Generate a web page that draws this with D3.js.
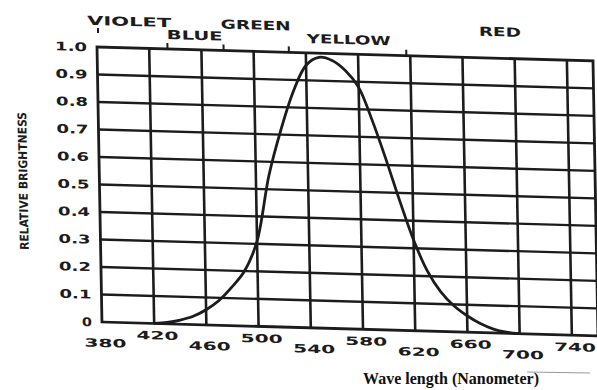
<!DOCTYPE html>
<html>
<head>
<meta charset="utf-8">
<script src="https://cdn.jsdelivr.net/npm/d3@7"></script>
<style>
  body { margin: 0; background: #fff; }
  svg { display: block; }
  .lab { font-family: "DejaVu Sans", sans-serif; font-weight: bold; fill: #1c1c1c; }
</style>
</head>
<body>
<script>
'use strict';

var width = 597, height = 390;

// luminosity curve
var wavelengths = [420, 430, 440, 450, 460, 470, 480, 490, 500, 510, 520, 530, 540, 550,
  560, 570, 580, 590, 600, 610, 620, 630, 640, 650, 660, 670, 680, 690, 700];
var brightness = [0, 0.005, 0.015, 0.03, 0.055, 0.09, 0.14, 0.2, 0.31, 0.55, 0.72, 0.86, 0.955, 0.985,
  0.975, 0.94, 0.88, 0.76, 0.62, 0.47, 0.33, 0.22, 0.145, 0.095, 0.06, 0.033, 0.014, 0.004, 0];

var xTicks = [380, 420, 460, 500, 540, 580, 620, 660, 700, 740];
var yTicks = [0, 0.1, 0.2, 0.3, 0.4, 0.5, 0.6, 0.7, 0.8, 0.9, 1.0];
var yTickLabels = ['0', '0.1', '0.2', '0.3', '0.4', '0.5', '0.6', '0.7', '0.8', '0.9', '1.0'];

// colour band names across the top
var colorNames = ['VIOLET', 'BLUE', 'GREEN', 'YELLOW', 'RED'];
var colorCenters = [405, 455, 502, 573, 689];
var bandEdges = [381, 434, 477, 527, 617];

var w = 496, h = 275;
var x = d3.scaleLinear().domain([380, 760]).range([0, w]);
var y = d3.scaleLinear().domain([0, 1]).range([h, 0]);

var svg = d3.select('body').append('svg')
  .attr('width', width)
  .attr('height', height);

// the scan is a little skewed
var g = svg.append('g')
  .attr('transform', 'matrix(1,0.028,0.018,1,97,47)');

var ink = '#1c1c1c';

// grid
g.selectAll('.hgrid')
  .data(yTicks.slice(1, -1))
  .enter().append('line')
  .attr('x1', 0).attr('x2', w)
  .attr('y1', function(d) { return y(d); })
  .attr('y2', function(d) { return y(d); })
  .attr('stroke', ink).attr('stroke-width', 2.4);

g.selectAll('.vgrid')
  .data(xTicks.slice(1))
  .enter().append('line')
  .attr('x1', function(d) { return x(d); })
  .attr('x2', function(d) { return x(d); })
  .attr('y1', 0).attr('y2', h)
  .attr('stroke', ink).attr('stroke-width', 2.6);

g.append('rect')
  .attr('x', 0).attr('y', 0)
  .attr('width', w).attr('height', h)
  .attr('fill', 'none')
  .attr('stroke', ink).attr('stroke-width', 2.8);

// band ticks above top edge
g.selectAll('.band')
  .data(bandEdges)
  .enter().append('line')
  .attr('x1', function(d) { return x(d); })
  .attr('x2', function(d) { return x(d); })
  .attr('y1', function(d, i) { return i === 0 ? -14 : -6; })
  .attr('y2', function(d, i) { return i === 0 ? -19 : 0; })
  .attr('stroke', ink).attr('stroke-width', 2);

g.selectAll('.cname')
  .data(colorNames)
  .enter().append('text')
  .attr('class', 'lab')
  .attr('x', function(d, i) { return x(colorCenters[i]); })
  .attr('y', function(d, i) { return i % 2 === 0 ? -22 : -10; })
  .attr('text-anchor', 'middle')
  .attr('font-size', 12.5)
  .attr('textLength', function(d) { return d.length * 14; })
  .attr('lengthAdjust', 'spacingAndGlyphs')
  .text(function(d) { return d; });

// curve
var pts = wavelengths.map(function(d, i) { return [d, brightness[i]]; });
var line = d3.line()
  .x(function(d) { return x(d[0]); })
  .y(function(d) { return y(d[1]); })
  .curve(d3.curveCatmullRom.alpha(0.5));

g.append('path')
  .datum(pts)
  .attr('d', line)
  .attr('fill', 'none')
  .attr('stroke', ink)
  .attr('stroke-width', 2.8);

// tick labels
g.selectAll('.xl')
  .data(xTicks)
  .enter().append('text')
  .attr('class', 'lab')
  .attr('x', function(d) { return x(d) + 3; })
  .attr('y', function(d, i) { return h + (i % 2 === 0 ? 25 : 16); })
  .attr('text-anchor', 'middle')
  .attr('font-size', 11.5)
  .attr('textLength', 42)
  .attr('lengthAdjust', 'spacingAndGlyphs')
  .text(function(d) { return d; });

g.selectAll('.yl')
  .data(yTicks)
  .enter().append('text')
  .attr('class', 'lab')
  .attr('x', -10)
  .attr('y', function(d) { return y(d) + 4.5; })
  .attr('text-anchor', 'end')
  .attr('font-size', 12)
  .attr('textLength', function(d, i) { return i === 0 ? 10 : 32; })
  .attr('lengthAdjust', 'spacingAndGlyphs')
  .text(function(d, i) { return yTickLabels[i]; });

g.append('text')
  .attr('class', 'lab')
  .attr('transform', 'translate(-72,' + y(0.505) + ') rotate(-90)')
  .attr('text-anchor', 'middle')
  .attr('font-size', 12)
  .attr('textLength', 138)
  .attr('lengthAdjust', 'spacingAndGlyphs')
  .style('font-family', '"DejaVu Sans Condensed", "DejaVu Sans", sans-serif')
  .text('RELATIVE BRIGHTNESS');

// axis title
svg.append('text')
  .attr('x', 451).attr('y', 384)
  .attr('text-anchor', 'middle')
  .attr('font-family', '"Liberation Serif", "Times New Roman", serif')
  .attr('font-weight', 'bold')
  .attr('font-size', 16)
  .attr('fill', '#111')
  .text('Wave length (Nanometer)');

// stray scan mark
svg.append('line')
  .attr('x1', 527).attr('x2', 590)
  .attr('y1', 372).attr('y2', 373)
  .attr('stroke', '#999').attr('stroke-width', 1);
</script>
</body>
</html>
